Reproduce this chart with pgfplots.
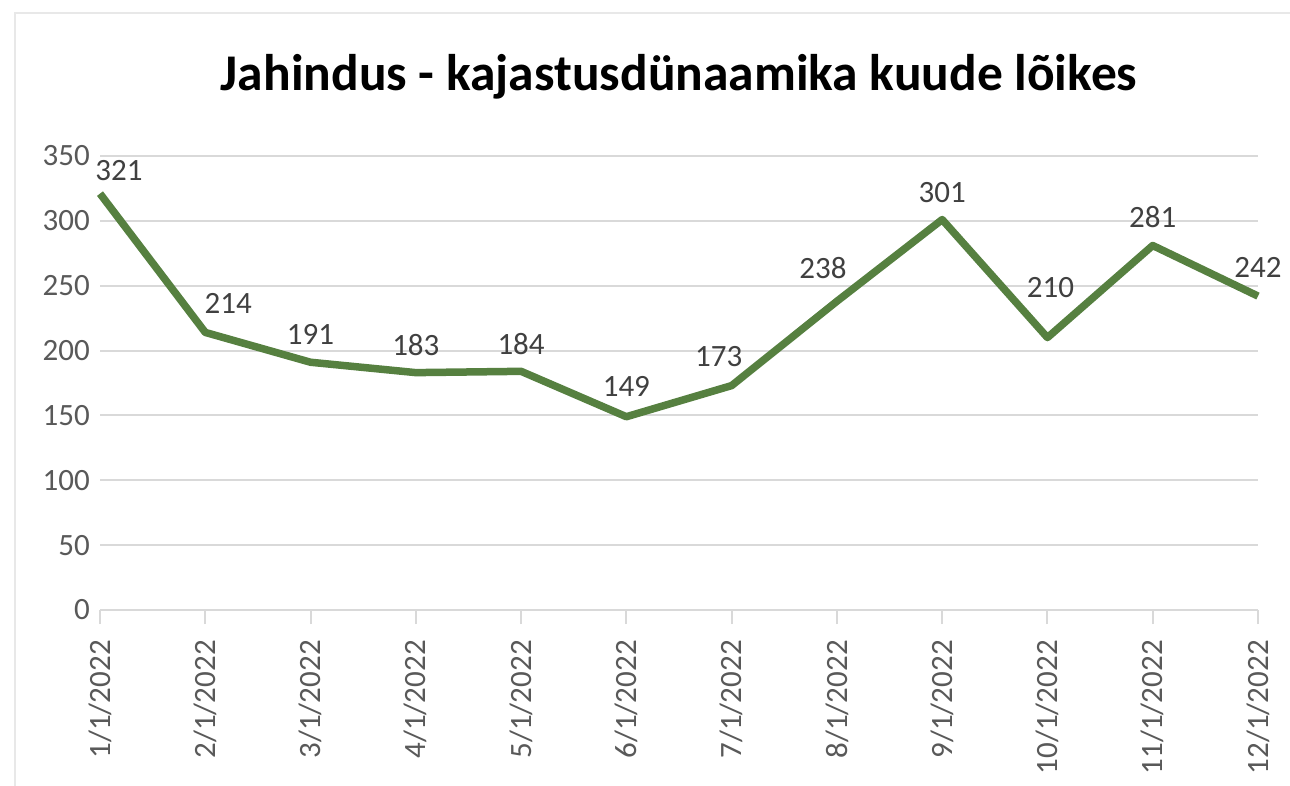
\documentclass[border=0pt]{standalone}
\usepackage{fontspec}
\setmainfont{Carlito}
\usepackage{pgfplots}
\usepackage{pgfplotstable}
\pgfplotsset{compat=1.18}

\definecolor{linec}{RGB}{86,128,64}
\definecolor{gridc}{RGB}{217,217,217}
\definecolor{tickc}{RGB}{89,89,89}
\definecolor{labc}{RGB}{64,64,64}
\definecolor{framec}{RGB}{232,232,232}

% month index, count, label offset (pt) from the point
\pgfplotstableread{
x y dx dy
0 321 19 23
1 214 23 29
2 191 0 28
3 183 0 28
4 184 0 27
5 149 0 30
6 173 -13 29
7 238 -14 33
8 301 0 27
9 210 3 50
10 281 0 28
11 242 0 29
}\datatable

\begin{document}
\begin{tikzpicture}
\path[use as bounding box] (0,0) rectangle (1290pt,785pt);
\draw[framec, line width=1.5pt] (15pt,-20pt) rectangle (1310pt,772pt);
\begin{axis}[
    at={(100pt,175pt)}, anchor=south west,
    scale only axis,
    width=1158pt, height=454pt,
    xmin=0, xmax=11,
    ymin=0, ymax=350,
    clip=false,
    axis x line*=bottom,
    axis y line*=left,
    y axis line style={draw=none},
    x axis line style={draw=gridc, line width=2.5pt},
    xtick={0,...,11},
    xticklabels={1/1/2022,2/1/2022,3/1/2022,4/1/2022,5/1/2022,6/1/2022,7/1/2022,8/1/2022,9/1/2022,10/1/2022,11/1/2022,12/1/2022},
    xtick align=outside,
    major tick length=14pt,
    xtick style={draw=gridc, line width=2pt},
    ytick={0,50,...,350},
    ytick style={draw=none},
    ymajorgrids,
    grid style={draw=gridc, line width=2pt},
    /pgf/number format/assume math mode=true,
    xticklabel shift=16pt,
    xticklabel style={rotate=90, anchor=east, inner sep=0pt, font=\fontsize{31}{31}\selectfont, text=tickc},
    yticklabel style={anchor=east, inner sep=0pt, xshift=-10pt, font=\fontsize{31}{31}\selectfont, text=tickc},
    title={Jahindus - kajastusdünaamika kuude lõikes},
    title style={at={(0.5,1)}, anchor=base, yshift=59pt, font=\fontsize{51.5}{51.5}\selectfont\bfseries, text=black},
]
\addplot[linec, line width=7.5pt, line join=round,
    nodes near coords,
    visualization depends on={\thisrow{dx} \as \dx},
    visualization depends on={\thisrow{dy} \as \dy},
    every node near coord/.append style={anchor=center, inner sep=0pt,
        xshift=\dx pt, yshift=\dy pt,
        font=\fontsize{31}{31}\selectfont, text=labc},
] table[x=x, y=y] {\datatable};
\end{axis}
\end{tikzpicture}
\end{document}
